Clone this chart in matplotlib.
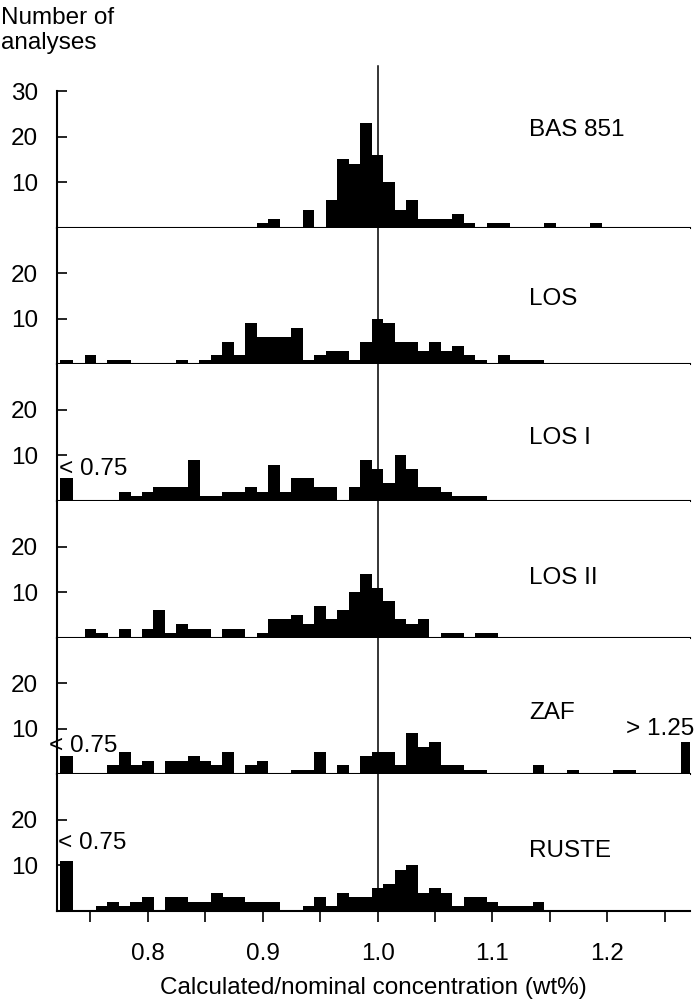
import numpy as np
import matplotlib.pyplot as plt
from matplotlib.ticker import FixedLocator, NullFormatter

plt.rcParams['font.family'] = ['Liberation Sans', 'DejaVu Sans']
plt.rcParams['font.size'] = 17.5

# histogram bins, 0.01 wide, centred on 0.75 ... 1.25
bin_centres = np.round(np.arange(0.75, 1.2501, 0.01), 2)
NOMINAL = 1.0

samples = ["BAS 851", "LOS", "LOS I", "LOS II", "ZAF", "RUSTE"]

bas851 = [0, 0, 0, 0, 0, 0, 0, 0, 0, 0,
          0, 0, 0, 0, 0, 1, 2, 0, 0, 4,
          0, 6, 15, 14, 23, 16, 10, 4, 6, 2,
          2, 2, 3, 1, 0, 1, 1, 0, 0, 0,
          1, 0, 0, 0, 1, 0, 0, 0, 0, 0,
          0]
los = [2, 0, 1, 1, 0, 0, 0, 0, 1, 0,
       1, 2, 5, 2, 9, 6, 6, 6, 8, 1,
       2, 3, 3, 1, 5, 10, 9, 5, 5, 3,
       5, 3, 4, 2, 1, 0, 2, 1, 1, 1,
       0, 0, 0, 0, 0, 0, 0, 0, 0, 0,
       0]
los_1 = [0, 0, 0, 2, 1, 2, 3, 3, 3, 9,
         1, 1, 2, 2, 3, 2, 8, 2, 5, 5,
         3, 3, 0, 3, 9, 7, 4, 10, 7, 3,
         3, 2, 1, 1, 1, 0, 0, 0, 0, 0,
         0, 0, 0, 0, 0, 0, 0, 0, 0, 0,
         0]
los_2 = [2, 1, 0, 2, 0, 2, 6, 1, 3, 2,
         2, 0, 2, 2, 0, 1, 4, 4, 5, 3,
         7, 4, 6, 10, 14, 11, 8, 4, 3, 4,
         0, 1, 1, 0, 1, 1, 0, 0, 0, 0,
         0, 0, 0, 0, 0, 0, 0, 0, 0, 0,
         0]
zaf = [0, 0, 2, 5, 2, 3, 0, 3, 3, 4,
       3, 2, 5, 0, 2, 3, 0, 0, 1, 1,
       5, 0, 2, 0, 4, 5, 5, 2, 9, 6,
       7, 2, 2, 1, 1, 0, 0, 0, 0, 2,
       0, 0, 1, 0, 0, 0, 1, 1, 0, 0,
       0]
ruste = [0, 1, 2, 1, 2, 3, 0, 3, 3, 2,
         2, 4, 3, 3, 2, 2, 2, 0, 0, 1,
         3, 1, 4, 3, 3, 5, 6, 9, 10, 4,
         5, 4, 1, 3, 3, 2, 1, 1, 1, 2,
         0, 0, 0, 0, 0, 0, 0, 0, 0, 0,
         0]
counts = [bas851, los, los_1, los_2, zaf, ruste]

# analyses falling outside the 0.75-1.25 range
below_075 = [0, 1, 5, 0, 4, 11]
above_125 = [0, 0, 0, 0, 7, 0]

# where the outlier bars and sample names sit
LOW_X, LOW_W = 0.729, 0.011
HIGH_X, HIGH_W = 1.268, 0.008
name_y = [21.5, 14.4, 13.8, 13.1, 13.5, 13.1]

fig, axes = plt.subplots(6, 1, sharex=True, figsize=(6.95, 10.01), dpi=100,
                         gridspec_kw=dict(hspace=0))
fig.subplots_adjust(left=0.082, right=0.993, top=0.909, bottom=0.090)

for i, ax in enumerate(axes):
    ax.bar(bin_centres, counts[i], width=0.0101, color="black", linewidth=0)
    if below_075[i]:
        ax.bar(LOW_X, below_075[i], width=LOW_W, color="black", linewidth=0)
    if above_125[i]:
        ax.bar(HIGH_X, above_125[i], width=HIGH_W, color="black", linewidth=0)

    ax.set_xlim(0.721, 1.272)
    ax.set_ylim(0, 30)
    for side in ("top", "right"):
        ax.spines[side].set_visible(False)
    for side in ("left", "bottom"):
        ax.spines[side].set_linewidth(1.5)

    ax.set_yticks([10, 20, 30] if i == 0 else [10, 20])
    ax.tick_params(axis="y", direction="in", length=7, width=1.2, pad=13.5)
    ax.xaxis.set_major_locator(FixedLocator([0.8, 0.9, 1.0, 1.1, 1.2]))
    ax.xaxis.set_minor_locator(FixedLocator([0.75, 0.85, 0.95, 1.05, 1.15, 1.25]))
    ax.xaxis.set_minor_formatter(NullFormatter())
    ax.tick_params(axis="x", which="both", direction="out", length=8,
                   width=1.2, pad=15)

    top = 35.5 if i == 0 else 30
    ax.plot([NOMINAL, NOMINAL], [0, top], color="black", lw=1.1,
            clip_on=False)

    ax.text(1.132, name_y[i], samples[i], ha="left", va="center")

axes[-1].set_xticklabels(["0.8", "0.9", "1.0", "1.1", "1.2"])
axes[-1].set_xlabel("Calculated/nominal concentration (wt%)", labelpad=9)

# overflow markers
axes[2].text(0.7225, 7.0, "< 0.75", ha="left", va="center")
axes[4].text(0.714, 6.3, "< 0.75", ha="left", va="center", clip_on=False)
axes[4].text(1.276, 10.0, "> 1.25", ha="right", va="center", clip_on=False)
axes[5].text(0.7215, 15.0, "< 0.75", ha="left", va="center")

fig.text(0.002, 0.993, "Number of\nanalyses", ha="left", va="top",
         linespacing=1.2)

fig.savefig("out.png", dpi=100)
